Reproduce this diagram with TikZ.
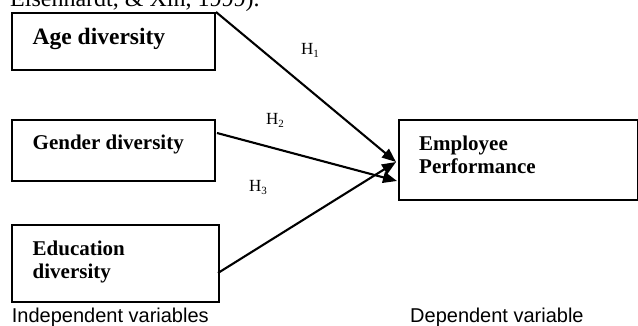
\documentclass[tikz,border=0pt]{standalone}
\usepackage{fontspec}
\setmainfont{Liberation Serif}
\newfontfamily\arialfont{Liberation Sans}
\usetikzlibrary{arrows.meta}
\tikzset{
  box/.style={draw, line width=2pt, rectangle, inner sep=0pt, anchor=north west},
  lbl/.style={inner sep=0pt, anchor=base west},
  boxtxt/.style={lbl, font=\fontsize{21}{23}\selectfont\bfseries, align=left},
  hyp/.style={lbl, font=\fontsize{17}{19}\selectfont},
  caption/.style={lbl, font=\arialfont\fontsize{20}{23}\selectfont},
  arr/.style={line width=2.1pt, -{Triangle[length=14pt,width=11pt]}},
}
\newcommand{\hsub}[1]{H\raisebox{-2.5pt}{\fontsize{11}{11}\selectfont #1}}
\begin{document}
\begin{tikzpicture}[x=1pt,y=-1pt]
\useasboundingbox (0,0) rectangle (638,326);
\clip (0,0) rectangle (638,326);
\node[lbl, font=\fontsize{24}{28}\selectfont] (src) at (10,7) {Eisenhardt, \& Xin, 1999).};
% boxes
\node[box, minimum width=203pt, minimum height=57pt] (age) at (11,12) {};
\node[box, minimum width=203pt, minimum height=61pt] (gen) at (11,119) {};
\node[box, minimum width=207pt, minimum height=77pt] (edu) at (11,224) {};
\node[box, minimum width=239pt, minimum height=80pt] (emp) at (398,119) {};
% box texts
\node[boxtxt, font=\fontsize{23.5}{26}\selectfont\bfseries] (agetxt) at (32.5,45) {Age diversity};
\node[boxtxt] (gentxt) at (32.5,150) {Gender diversity};
\node[boxtxt] (edutxt) at (32.5,278) {Education\\diversity};
\node[boxtxt] (emptxt) at (419,174) {Employee\\Performance};
% connectors
\coordinate (t1) at (396,162);
\coordinate (t2) at (397,181);
\coordinate (s2) at (217,133);
\coordinate (s3) at (218,273);
\draw[arr] (age.north east) -- (t1);
\draw[arr] (s2) -- (t2);
\draw[arr] (s3) -- (t1);
% hypothesis labels
\node[hyp] (h1) at (301,55) {\hsub{1}};
\node[hyp] (h2) at (266,125) {\hsub{2}};
\node[hyp] (h3) at (249,192) {\hsub{3}};
% captions
\node[caption] (ind) at (11.7,323) {Independent variables};
\node[caption] (dep) at (410,323) {Dependent variable};
\end{tikzpicture}
\end{document}
